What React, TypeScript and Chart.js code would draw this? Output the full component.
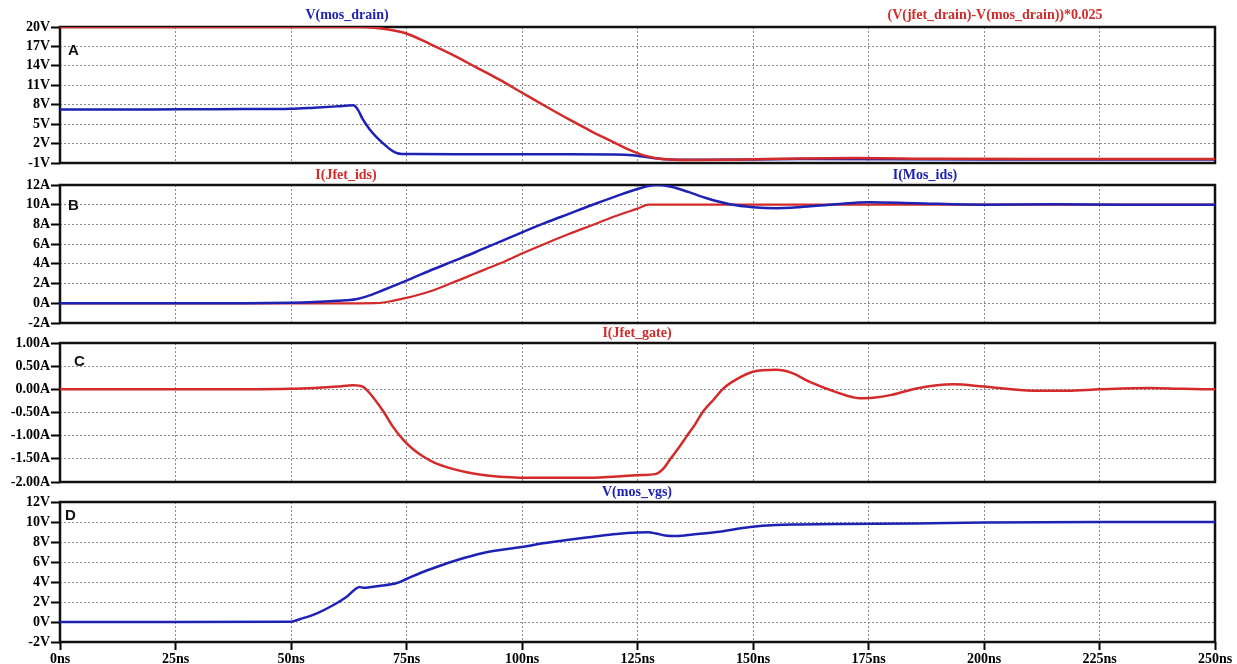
import React, { useEffect, useRef } from 'react';
import { Chart, registerables } from 'chart.js';

Chart.register(...registerables);

const RED = '#d42a2a';
const BLUE = '#1e22b4';
const GRID = '#8a8a8a';
const SERIF = '"Liberation Serif", "Times New Roman", serif';

// ---- Time axis ticks (ns)
const xMin = 0;
const xMax = 250;
const xStep = 25;

// ---- Panel A: V(mos_drain) and (V(jfet_drain)-V(mos_drain))*0.025
const tMosDrain = [0, 10, 20, 30, 40, 50, 55, 60, 63.5, 64.5, 65.5, 67, 68.5, 70, 71.5, 73, 74, 76, 90, 110, 120, 124, 128, 132, 140, 160, 200, 250];
const vMosDrain = [7.25, 7.25, 7.28, 7.3, 7.32, 7.38, 7.55, 7.75, 7.9, 7.2, 5.8, 4.2, 3.0, 2.0, 1.1, 0.5, 0.4, 0.38, 0.36, 0.34, 0.32, 0.2, -0.2, -0.45, -0.5, -0.4, -0.45, -0.45];

const tJfetDiff = [0, 50, 65, 68, 72, 75, 80, 85, 90, 95, 100, 105, 110, 115, 120, 123, 126, 129, 132, 136, 145, 160, 172, 190, 220, 250];
const vJfetDiff = [20, 20, 20, 19.9, 19.5, 19.0, 17.4, 15.7, 13.8, 11.9, 9.85, 7.8, 5.8, 3.9, 2.15, 1.1, 0.25, -0.25, -0.45, -0.55, -0.5, -0.3, -0.22, -0.35, -0.4, -0.4];

// ---- Panel B: I(Jfet_ids) and I(Mos_ids)
const tMosIds = [0, 40, 50, 55, 60, 64, 67, 70, 75, 80, 85, 90, 95, 100, 105, 110, 115, 120, 125, 129, 132, 136, 140, 145, 150, 155, 160, 168, 175, 185, 200, 215, 230, 250];
const iMosIds = [0, 0, 0.05, 0.12, 0.25, 0.4, 0.8, 1.35, 2.3, 3.3, 4.25, 5.2, 6.2, 7.2, 8.15, 9.05, 9.95, 10.8, 11.6, 12.0, 11.85, 11.3, 10.65, 10.05, 9.75, 9.65, 9.75, 10.05, 10.25, 10.15, 10.0, 10.05, 10.0, 10.0];

const tJfetIds = [0, 60, 68, 70, 72, 75, 80, 85, 90, 95, 100, 105, 110, 115, 120, 125, 127.5, 130, 250];
const iJfetIds = [0, 0, 0.02, 0.08, 0.25, 0.55, 1.2, 2.1, 3.05, 4.0, 5.05, 6.05, 7.0, 7.9, 8.8, 9.6, 10.0, 10.0, 10.0];

// ---- Panel C: I(Jfet_gate)
const tJfetGate = [0, 20, 40, 50, 55, 60, 63.5, 65.5, 67, 70, 72, 74.3, 76.5, 78.6, 81, 84.4, 88, 91.6, 96, 100, 113, 120.5, 126, 128.8, 130.5, 132, 134, 135.6, 137.5, 139.2, 141.5, 143.6, 146.5, 150, 155, 158.5, 162.3, 168, 173, 176, 180, 185.4, 193.4, 200, 210.7, 218, 225, 236, 243, 250];
const iJfetGate = [0, 0, 0, 0.01, 0.03, 0.06, 0.09, 0.06, -0.08, -0.48, -0.8, -1.09, -1.3, -1.45, -1.58, -1.7, -1.79, -1.85, -1.89, -1.91, -1.91, -1.88, -1.85, -1.83, -1.72, -1.52, -1.25, -1.02, -0.75, -0.48, -0.22, 0.02, 0.22, 0.38, 0.42, 0.35, 0.16, -0.06, -0.19, -0.18, -0.12, 0.02, 0.11, 0.06, -0.03, -0.03, 0.0, 0.03, 0.01, 0.0];

// ---- Panel D: V(mos_vgs)
const tMosVgs = [0, 25, 50, 52, 55.6, 59.2, 62, 64.9, 65.6, 69, 72.9, 75, 78, 81.5, 86, 91.6, 96, 99.9, 105, 109.7, 115, 120.5, 125, 127.3, 129, 131, 133.5, 137, 142.1, 149.4, 155, 160, 170, 185, 200, 225, 250];
const vMosVgs = [0, 0, 0.03, 0.3, 0.87, 1.7, 2.5, 3.5, 3.42, 3.6, 3.9, 4.3, 4.9, 5.5, 6.2, 6.9, 7.25, 7.5, 7.9, 8.2, 8.5, 8.8, 8.95, 8.97, 8.85, 8.65, 8.6, 8.75, 9.0, 9.5, 9.7, 9.75, 9.8, 9.85, 9.95, 10.0, 10.0];

// ---- Series labels
const labelsTop = [
  { text: 'V(mos_drain)', color: BLUE, x: 347, y: 15 },
  { text: '(V(jfet_drain)-V(mos_drain))*0.025', color: RED, x: 995, y: 15 },
  { text: 'I(Jfet_ids)', color: RED, x: 346, y: 175 },
  { text: 'I(Mos_ids)', color: BLUE, x: 925, y: 175 },
  { text: 'I(Jfet_gate)', color: RED, x: 637, y: 333 },
  { text: 'V(mos_vgs)', color: BLUE, x: 637, y: 492 },
];

const zip = (t: number[], v: number[]) => t.map((x, i) => ({ x, y: v[i] }));

const framePlugin = {
  id: 'frame',
  beforeDatasetsDraw(chart: any) {
    const { ctx, chartArea: a } = chart;
    ctx.save();
    ctx.setLineDash([]);
    ctx.lineWidth = 2.5;
    ctx.strokeStyle = '#111';
    ctx.strokeRect(a.left, a.top, a.right - a.left, a.bottom - a.top);
    ctx.restore();
  },
  afterDraw(chart: any, _args: any, opts: any) {
    const { ctx, chartArea: a } = chart;
    ctx.save();
    ctx.font = 'bold 15px "Liberation Sans", Arial, sans-serif';
    ctx.fillStyle = '#111';
    ctx.textBaseline = 'alphabetic';
    ctx.fillText(opts.letter, a.left + opts.dx, a.top + opts.dy);
    ctx.restore();
  },
};

type Series = { t: number[]; v: number[]; color: string; width: number };

type PanelProps = {
  top: number;
  height: number;
  padTop: number;
  padBottom: number;
  series: Series[];
  yMin: number;
  yMax: number;
  yStep: number;
  yFmt: (v: number) => string;
  showX: boolean;
  letter: string;
  dx: number;
  dy: number;
};

function Panel(p: PanelProps) {
  const ref = useRef<HTMLCanvasElement>(null);
  useEffect(() => {
    const tickFont = { family: SERIF, size: 14, weight: 'bold' as const };
    const chart = new Chart(ref.current as HTMLCanvasElement, {
      type: 'line',
      data: {
        datasets: p.series.map((s) => ({
          data: zip(s.t, s.v),
          borderColor: s.color,
          borderWidth: s.width,
          pointRadius: 0,
          fill: false,
          cubicInterpolationMode: 'monotone' as const,
        })),
      },
      options: {
        responsive: false,
        animation: false,
        layout: { padding: { top: p.padTop, bottom: p.padBottom, left: 0, right: 22 } },
        plugins: {
          legend: { display: false },
          tooltip: { enabled: false },
          frame: { letter: p.letter, dx: p.dx, dy: p.dy },
        } as any,
        scales: {
          x: {
            type: 'linear',
            min: xMin,
            max: xMax,
            ticks: {
              stepSize: xStep,
              display: p.showX,
              autoSkip: false,
              maxRotation: 0,
              padding: 1,
              color: '#000',
              font: tickFont,
              callback: (v: any) => `${v}ns`,
            },
            grid: {
              color: GRID,
              lineWidth: 1,
              drawTicks: p.showX,
              tickLength: 8,
              tickColor: '#000',
              tickWidth: 2,
              tickBorderDash: [],
            } as any,
            border: { display: false, dash: [2, 2] },
            afterFit: (s: any) => {
              s.height = p.showX ? 22 : 0;
            },
          },
          y: {
            type: 'linear',
            min: p.yMin,
            max: p.yMax,
            ticks: {
              stepSize: p.yStep,
              autoSkip: false,
              padding: 1,
              color: '#000',
              font: tickFont,
              callback: (v: any) => p.yFmt(Number(v)),
            },
            grid: {
              color: GRID,
              lineWidth: 1,
              drawTicks: true,
              tickLength: 9,
              tickColor: '#000',
              tickWidth: 2,
              tickBorderDash: [],
            } as any,
            border: { display: false, dash: [2, 2] },
            afterFit: (s: any) => {
              s.width = 60;
            },
          },
        },
      },
      plugins: [framePlugin],
    });
    return () => chart.destroy();
  }, []);
  return (
    <canvas
      ref={ref}
      width={1237}
      height={p.height}
      style={{ position: 'absolute', left: 0, top: p.top, width: 1237, height: p.height }}
    />
  );
}

export default function App() {
  return (
    <div
      style={{
        position: 'fixed',
        left: 0,
        top: 0,
        width: 1237,
        height: 664,
        background: '#fff',
        overflow: 'hidden',
      }}
    >
      <Panel
        top={17}
        height={156}
        padTop={10}
        padBottom={10}
        series={[
          { t: tJfetDiff, v: vJfetDiff, color: RED, width: 2.5 },
          { t: tMosDrain, v: vMosDrain, color: BLUE, width: 2.5 },
        ]}
        yMin={-1}
        yMax={20}
        yStep={3}
        yFmt={(v) => `${v}V`}
        showX={false}
        letter="A"
        dx={8}
        dy={28}
      />
      <Panel
        top={175}
        height={158}
        padTop={10}
        padBottom={10}
        series={[
          { t: tMosIds, v: iMosIds, color: BLUE, width: 2.5 },
          { t: tJfetIds, v: iJfetIds, color: RED, width: 2.2 },
        ]}
        yMin={-2}
        yMax={12}
        yStep={2}
        yFmt={(v) => `${v}A`}
        showX={false}
        letter="B"
        dx={8}
        dy={25}
      />
      <Panel
        top={333}
        height={159}
        padTop={10}
        padBottom={10}
        series={[{ t: tJfetGate, v: iJfetGate, color: RED, width: 2.5 }]}
        yMin={-2}
        yMax={1}
        yStep={0.5}
        yFmt={(v) => `${v.toFixed(2)}A`}
        showX={false}
        letter="C"
        dx={14}
        dy={23}
      />
      <Panel
        top={490}
        height={174}
        padTop={12}
        padBottom={0}
        series={[{ t: tMosVgs, v: vMosVgs, color: BLUE, width: 2.5 }]}
        yMin={-2}
        yMax={12}
        yStep={2}
        yFmt={(v) => `${v}V`}
        showX={true}
        letter="D"
        dx={5}
        dy={18}
      />
      {labelsTop.map((l) => (
        <div
          key={l.text}
          style={{
            position: 'absolute',
            left: l.x,
            top: l.y,
            transform: 'translate(-50%, -50%)',
            color: l.color,
            font: `bold 14px ${SERIF}`,
            whiteSpace: 'nowrap',
            lineHeight: '16px',
          }}
        >
          {l.text}
        </div>
      ))}
    </div>
  );
}
